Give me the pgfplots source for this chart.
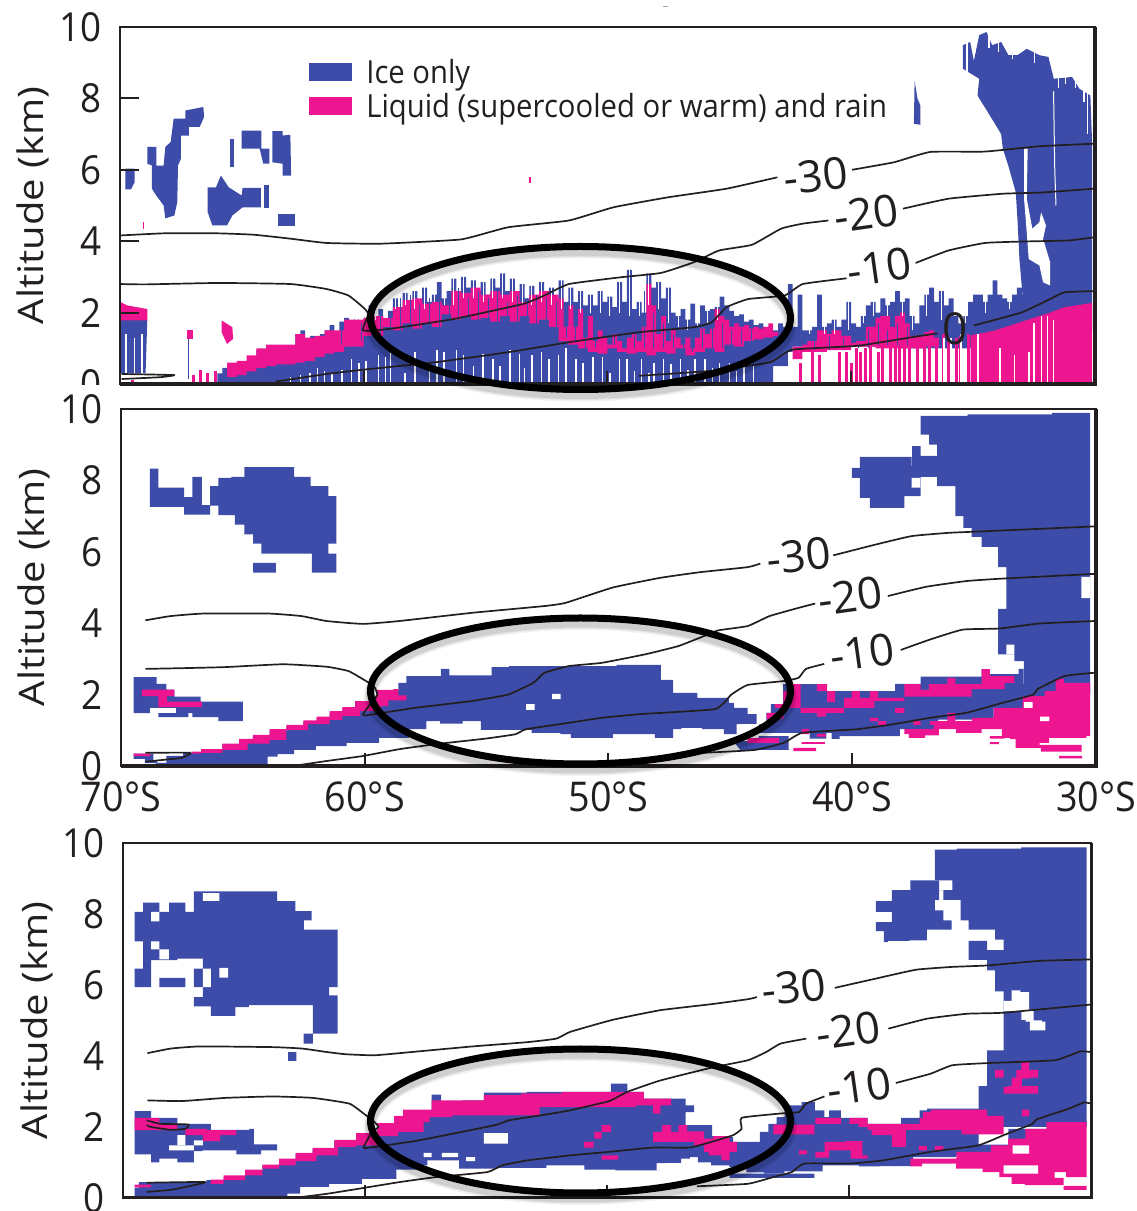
\documentclass[border=0pt]{standalone}
\usepackage{fontspec}
\usepackage{graphicx}
\setmainfont[FakeStretch=0.92]{Open Sans}
\newfontfamily\plainfont{Open Sans}
\usepackage{pgfplots}
\pgfplotsset{compat=1.18}
\definecolor{iceblue}{HTML}{3C4CA8}
\definecolor{liqpink}{HTML}{EE1590}
\definecolor{inkc}{HTML}{231F20}
\pgfplotsset{
 ice/.style={forget plot,fill=iceblue,draw=none},
 liq/.style={forget plot,fill=liqpink,draw=none},
 hole/.style={forget plot,fill=white,draw=none},
 iso/.style={forget plot,draw=inkc,line width=1.7pt,fill=none,smooth,tension=0.25,line join=round},
 needle/.style={forget plot,unbounded coords=jump,fill=none,line width=#1},
 stair/.style={ice/.append style={const plot mark mid},liq/.append style={const plot mark mid},hole/.append style={const plot mark mid}},
 panel/.style={
  scale only axis,x dir=reverse,xmin=30,xmax=70,ymin=0,ymax=10,
  axis on top,axis line style={draw=inkc,line width=2pt},
  xtick={40,50,60},ytick={0,2,4,6,8,10},
  tick align=inside,xtick pos=bottom,ytick pos=left,
  tick style={draw=inkc,line width=2pt},
  major tick length=13pt,
  /pgf/number format/assume math mode=true,
  yticklabel style={font=\fontsize{40}{40}\selectfont,text=inkc,xshift=-15pt},
  xticklabel style={font=\fontsize{41}{41}\selectfont,text=inkc},
  every axis y label/.style={at={(axis description cs:-0.089,0.5)},rotate=90,anchor=center,font=\plainfont\fontsize{40}{40}\selectfont,text=inkc},
  ylabel={\scalebox{1}[0.88]{Altitude (km)}}
 }
}
\newcommand{\rect}[5]{\addplot[#1] coordinates {(#2,#4) (#3,#4) (#3,#5) (#2,#5)} -- cycle;}
\newcommand{\lab}[4]{\node[rotate=#4,text=inkc,font=\plainfont\fontsize{44}{44}\selectfont] at (axis cs:#1,#2) {#3};}
\newcommand{\ring}[2]{%
 \foreach \w/\o in {14/0.05,11/0.07,9/0.08}{\draw[black,opacity=\o,line width=\w pt] (580.5pt,#1pt-5pt) ellipse [x radius=210pt,y radius=#2pt];}
 \draw[black,line width=7pt] (580.5pt,#1pt) ellipse [x radius=210pt,y radius=#2pt];}
\begin{document}
\begin{tikzpicture}[x=1pt,y=1pt]
\useasboundingbox (0,0) rectangle (1136,1211);
\draw[gray!70,line width=.8pt] (663,1205) -- (668,1205);
% ------------------------------------------------ panel 1
\begin{axis}[panel,at={(120pt,827pt)},anchor=south west,width=975pt,height=357pt,
  xticklabels={},ytick style={draw=inkc,line width=2pt,/pgfplots/major tick length=19pt},
  legend style={at={(0.194,0.91)},anchor=north west,draw=none,fill=none,inner sep=0pt,row sep=8pt,
   font=\fontsize{31.8}{32}\selectfont,text=inkc,legend cell align=left,nodes={inner xsep=14pt,inner ysep=0pt}},
  legend image code/.code={\fill[#1] (0pt,-9pt) rectangle (43pt,9pt);},
  legend plot pos=left]
\addplot[fill=iceblue,draw=none,const plot] coordinates {
(66,0)(66,.3)(65.8,.45)(65.6,.35)(65.4,.5)(65.2,.55)(65,.6)(64.8,.65)(64.6,.7)(64.4,.95)(64.2,.8)(64,1)(63.8,.85)(63.6,1)(63.4,1.05)(63.2,.95)(63,1.05)(62.8,1.4)(62.6,1.5)(62.4,1.2)(62.2,1.35)(62,1.25)(61.8,1.4)(61.6,1.5)(61.4,1.65)(61.2,1.45)(61,1.75)(60.8,1.85)(60.6,1.6)(60.4,1.8)(60.2,1.7)(60,1.85)(59.8,2.2)(59.6,1.9)(59.4,2.1)(59.2,1.8)(59,2.05)(58.8,2.4)(58.6,2.1)(58.4,2.55)(58.2,2.3)(58,2.6)(57.8,2.2)(57.6,2.7)(57.4,2.3)(57.2,2.5)(57,2.85)(56.8,2.4)(56.6,2.6)(56.4,2.95)(56.2,2.55)(56,3)(55.8,2.7)(55.6,2.9)(55.4,2.6)(55.2,2.85)(55,2.5)(54.8,2.95)(54.6,2.7)(54.4,3.1)(54.2,2.6)(54,2.95)(53.8,2.6)(53.6,2.8)(53.4,2.4)(53.2,2.75)(53,2.45)(52.8,2.85)(52.6,2.5)(52.4,2.7)(52.2,2.4)(52,2.9)(51.8,2.3)(51.6,2.7)(51.4,2.3)(51.2,2.6)(51,2.2)(50.8,2.5)(50.6,2.2)(50.4,2.6)(50.2,2.3)(50,2.45)(49.8,2.15)(49.6,2.85)(49.4,2.3)(49.2,3.2)(49,2.1)(48.8,2.3)(48.6,2)(48.4,3.1)(48.2,2.7)(48,2.85)(47.8,2.4)(47.6,2.7)(47.4,2)(47.2,1.9)(47,2.1)(46.8,1.8)(46.6,2.25)(46.4,1.7)(46.2,2.2)(46,2.05)(45.8,2.1)(45.6,2.15)(45.4,2.45)(45.2,2.2)(45,2.05)(44.8,1.9)(44.6,1.95)(44.4,1.75)(44.2,1.8)(44,1.65)(43.8,1.7)(43.6,1.6)(43.4,1.5)(43.2,.6)(43.2,0)} -- cycle;
\addlegendentry{Ice only}
\addplot[ice,const plot] coordinates {
(43.4,.5)(43.2,1.5)(43,1.7)(42.8,1.6)(42.6,2.8)(42.4,1.6)(42.2,2.5)(42,1.5)(41.8,1.5)(41.6,1.6)(41.4,2.5)(41.2,1.6)(41,1.7)(40.8,1.8)(40.6,1.6)(40.4,1.8)(40.2,2.3)(40,1.7)(39.8,1.6)(39.6,1.9)(39.4,2.2)(39.2,2.3)(39,2)(38.8,2.4)(38.6,2.2)(38.4,2.3)(38.2,2.6)(38,2.3)(37.8,2.4)(37.6,1.9)(37.4,1.7)(37.2,2.2)(37,2.5)(36.8,2.7)(36.6,2.3)(36.4,2.6)(36.2,2.2)(36,2.4)(35.8,1.9)(35.6,1.7)(35.4,1.9)(35.2,2.3)(35,2.5)(34.8,2.5)(34.6,2.3)(34.4,2.5)(34.2,2.9)(34,2.5)(33.8,2.4)(33.6,2.3)(33.4,2.5)(33.2,2.7)(33,2.5)(32.8,2.6)(32.8,1)(36,1)(38,1.05)(42.4,.9)(42.6,.5)} -- cycle;
% upper clouds
\addplot[ice] coordinates {(69.78,6.03)(69.4,6.03)(69.4,5.65)(69.55,5.45)(69.78,5.45)} -- cycle;
\addplot[ice] coordinates {(68.88,6.64)(68.51,6.64)(68.51,6.12)(68.21,6.12)(68.14,6.64)(67.92,6.78)(67.8,7.43)(67.32,7.43)(67.32,7.66)(66.58,7.76)(66.55,7.48)(66.73,7.2)(67.17,7.2)(67.17,6.96)(67.5,6.96)(67.5,6.31)(67.62,6.12)(67.65,5.09)(67.77,4.72)(68.14,4.64)(68.21,5)(68.51,5.28)(68.69,5.47)(68.69,6.12)(68.88,6.17)} -- cycle;
\rect{ice}{65.49}{65.31}{6.87}{6.07}
\addplot[ice] coordinates {(65.01,7.1)(64.2,7.1)(64.2,6.59)(63.87,6.59)(63.87,6.17)(64.12,6.17)(64.27,6.59)(65.01,6.59)} -- cycle;
\addplot[ice] coordinates {(63.75,7.08)(63.33,7.08)(63.33,6.96)(63.01,6.98)(62.98,5.84)(63.33,5.84)(63.33,6.17)(63.75,6.21)} -- cycle;
\addplot[ice] coordinates {(66.4,5.51)(66.06,5.51)(65.86,5.84)(65.54,5.51)(65.01,5.28)(64.97,5.49)(64.22,5.49)(64.22,4.95)(64.97,4.95)(65.39,4.72)(65.61,4.44)(66.21,4.44)(66.4,4.81)} -- cycle;
\rect{ice}{64.09}{63.87}{5.58}{4.93}
\rect{ice}{63.53}{62.83}{4.77}{4.42}
\addplot[ice] coordinates {(37.4,8.5)(37.28,7.99)(37.16,7.8)(37.16,7.26)(37.43,7.29)} -- cycle;
% left low block
\addplot[ice] coordinates {(69.97,1.8)(68.88,1.8)(68.95,.3)(69.97,.3)} -- cycle;
\rect{ice}{67.22}{67.16}{1.26}{.15}
% column
\addplot[ice] coordinates {(35.42,8.83)(35.42,9.49)(35.12,9.58)(34.97,9.05)(34.75,9.77)(34.45,9.86)(34.22,9.49)(33.85,9.58)(33.55,9.21)(33.18,9.21)(32.8,9.39)(32.28,9.21)(31.91,9.16)(31.69,8.55)(30.94,8.6)(30.64,8.27)(30.19,8.08)(30.12,6.78)(30.12,1.5)(33,1.5)(32.96,2.38)(33.1,3.5)(33.18,4.6)(33.25,5.37)(33.55,6.1)(33.78,6.59)(33.85,7)(34.15,7.34)(34.82,8.08)(34.75,8.55)} -- cycle;
% pink
\addplot[fill=liqpink,draw=none,const plot] coordinates {
(65.6,.6)(65.2,.65)(64.8,.8)(64.4,1)(64,1.1)(63.6,1.1)(63.2,1.1)(62.8,1.4)(62.4,1.3)(62,1.35)(61.6,1.5)(61.2,1.5)(60.8,1.8)(60.4,1.8)(60,1.85)(59.6,1.9)(59.2,1.85)(58.8,2.15)(58.4,2.35)(58,2.4)(57.6,2.25)(57.2,2.3)(56.8,2.2)(56.4,2.6)(56,2.55)(55.6,2.7)(55.2,2.5)(54.8,2.6)(54.4,2.5)(54,2.6)(53.6,2.3)(53.2,2.5)(52.8,2.6)(52.4,2.5)(52,2.4)(52,1.6)(52.4,1.8)(52.8,1.7)(53.2,1.9)(53.6,1.75)(54,1.9)(54.4,1.75)(54.8,1.85)(55.2,1.8)(55.6,1.9)(56,1.8)(56.4,1.95)(56.8,1.6)(57.2,1.7)(57.6,1.55)(58,1.7)(58.4,1.5)(58.8,1.6)(59.2,1.35)(59.6,1.35)(60,1.05)(60.4,1.05)(60.8,.9)(61.2,.85)(61.6,.75)(62,.65)(62.4,.6)(62.8,.55)(63.2,.55)(63.6,.5)(64,.45)(64.4,.35)(64.8,.25)(65.2,.2)(65.6,.2)} -- cycle;
\addlegendentry{Liquid (supercooled or warm) and rain}
\addplot[liq,const plot] coordinates {
(52,2.4)(51.8,1.6)(51.6,2.2)(51.4,1.6)(51.2,2.1)(51,1.3)(50.8,1.9)(50.6,1.2)(50.4,1.5)(50.2,1.3)(50,1.1)(49.8,1.4)(49.6,1.2)(49.4,1)(49.2,1.3)(49,1.4)(48.8,1.2)(48.6,1.6)(48.4,2.8)(48.2,2.2)(48,1.4)(47.8,1.9)(47.6,1.2)(47.4,1.5)(47.2,1.3)(47,1.1)(46.8,1.3)(46.6,1)(46.4,1.3)(46.2,1.55)(46,1.4)(45.8,1.55)(45.6,2.1)(45.4,1.9)(45.2,1.8)(45,1.6)(44.8,1.7)(44.6,1.6)(44.4,1.65)(44.2,1.55)(44,1.6)(43.8,1.55)(43.6,1.6)(43.4,1.7)(43.2,1.45)(43,1.6)(43,1.35)(43.2,1.3)(43.6,1.25)(44,1.2)(44.4,1.05)(44.8,1.1)(45.2,.9)(45.6,1)(46,.9)(46.4,.8)(46.8,1)(47.2,.85)(47.6,.9)(48,.8)(48.4,.9)(48.8,.85)(49.2,.9)(49.6,1)(50,.85)(50.4,.9)(50.8,1)(51.2,1.1)(51.6,1.2)(52,1.6)} -- cycle;
\addplot[liq,const plot] coordinates {
(42.4,1.05)(42,1.1)(41.8,1.2)(41.4,1.5)(41,1.4)(40.8,1.5)(40.4,1.35)(40,1.15)(39.8,1.2)(39.4,1.6)(39,1.85)(38.8,1.9)(38.4,1.6)(38.2,1.9)(38,2)(37.8,1.7)(37.6,1.35)(37.2,1.35)(37,1.45)(36.8,1.5)(36.6,1.3)(36.4,1.4)(36.4,1.05)(37,1)(38,1)(39,1.05)(40,.95)(41,.9)(42,.7)(42.4,.7)} -- cycle;
\addplot[liq] coordinates {(69.97,2.29)(69.7,2.2)(68.88,2.1)(68.88,1.78)(69.97,1.78)} -- cycle;
\rect{liq}{67.25}{67.02}{1.52}{1.26}
\addplot[liq] coordinates {(65.83,1.78)(65.39,1.59)(65.36,1.26)(65.61,1.12)(65.83,1.45)} -- cycle;
\addplot[liq] coordinates {(35.1,1.36)(34.1,1.5)(31.84,2)(31.25,2.15)(30.12,2.27)(30.12,.05)(35.1,.05)} -- cycle;
\rect{liq}{53.23}{53.15}{5.79}{5.63}
\rect{liq}{69.06}{69}{4.53}{4.33}
\addplot[forget plot,ycomb,liqpink,line width=3pt] coordinates {(67,.25)(66.7,.4)(66.4,.3)(66.1,.35)(42.1,.6)(41.6,.9)(41.3,.8)(40.5,.9)(40.2,.9)(40,.6)(39.8,1)(39.6,.9)(39.4,1)(39.2,1.1)(38.9,.9)(38.7,1.1)(38.4,1.2)(38.2,1.1)(38,1)(37.8,1.2)(37.6,1.1)(37.3,1.3)(37,1.3)(36.8,1.3)(36.5,1.2)(36.2,1.4)(36,1.3)(35.7,1.3)(35.5,1.35)(35.2,1.4)(69.5,.1)};
% blue filaments through the liquid layer
\addplot[needle=1pt,iceblue] coordinates {(60.9,1.1)(60.9,1.6)(nan,nan)(60.1,1.2)(60.1,1.7)(nan,nan)(59.7,1.2)(59.7,2)(nan,nan)(59.3,1.3)(59.3,2.1)(nan,nan)(58.9,1.4)(58.9,2)(nan,nan)(58.5,1.4)(58.5,2.4)(nan,nan)(58.1,1.4)(58.1,2.5)(nan,nan)(57.7,1.4)(57.7,2.2)(nan,nan)(57.3,1.5)(57.3,2.4)(nan,nan)(56.9,1.5)(56.9,2.3)(nan,nan)(56.5,1.7)(56.5,2.3)(nan,nan)(56.1,1.7)(56.1,2.7)(nan,nan)(55.7,1.7)(55.7,2.4)(nan,nan)(55.3,1.7)(55.3,2.6)(nan,nan)(54.9,1.7)(54.9,2.4)(nan,nan)(54.5,1.7)(54.5,2.6)(nan,nan)(54.1,1.7)(54.1,2.3)(nan,nan)(53.7,1.7)(53.7,2.5)(nan,nan)(53.3,1.7)(53.3,2.4)(nan,nan)(52.9,1.6)(52.9,2.5)(nan,nan)(52.5,1.7)(52.5,2.4)(nan,nan)(52.1,1.6)(52.1,2.3)(nan,nan)(51.7,1.3)(51.7,2.3)(nan,nan)(51.3,1.2)(51.3,2)(nan,nan)(50.9,1)(50.9,1.9)(nan,nan)(50.5,1)(50.5,1.8)(nan,nan)(49.7,1.1)(49.7,1.6)(nan,nan)(49.3,1)(49.3,1.5)(nan,nan)(48.9,1)(48.9,1.5)(nan,nan)(48.5,1)(48.5,2.6)(nan,nan)(48.1,1)(48.1,2)(nan,nan)(47.7,1)(47.7,1.7)(nan,nan)(47.3,1)(47.3,1.4)(nan,nan)(46.9,1)(46.9,1.3)(nan,nan)(46.5,.9)(46.5,1.2)(nan,nan)(46.1,1)(46.1,1.5)(nan,nan)(45.7,1)(45.7,1.8)(nan,nan)(45.3,1)(45.3,1.7)(nan,nan)(44.9,1.1)(44.9,1.5)(nan,nan)(44.5,1.1)(44.5,1.5)(nan,nan)(44.1,1.2)(44.1,1.5)(nan,nan)(41.5,.95)(41.5,1.4)(nan,nan)(40.9,.95)(40.9,1.35)(nan,nan)(40.3,1)(40.3,1.3)(nan,nan)(39.7,1)(39.7,1.15)(nan,nan)(39.3,1)(39.3,1.5)(nan,nan)(38.9,1.1)(38.9,1.7)(nan,nan)(38.5,1.1)(38.5,1.5)(nan,nan)(38.1,1.1)(38.1,1.7)(nan,nan)(37.7,1.1)(37.7,1.6)};
% white gaps
\addplot[forget plot,ycomb,white,line width=1.5pt] coordinates {(69.75,1.4)(69.4,1.3)(69.1,1.4)(63,.2)(62.6,.25)(62.2,.3)(61.9,.45)(61.6,.35)(61.3,.3)(60.9,.4)(60.5,.7)(60.2,.6)(59.9,.65)(59.4,.8)(59.1,.75)(58.9,1)(58.3,.3)(57.9,.9)(57.3,.6)(57,.95)(56.7,.9)(56.2,.95)(55.9,.8)(55.5,.5)(55.1,.85)(54.7,.7)(54.4,.5)(54,.95)(53.6,.85)(53.4,.45)(53.1,.8)(52.7,.9)(52.4,.7)(52,.8)(51.7,1)(51.3,.7)(51,.6)(50.6,.75)(50.2,.75)(49.9,.3)(49.5,.7)(49.2,.7)(48.9,.35)(48.6,.7)(48.3,.3)(48.1,.6)(47.7,.7)(47.4,.55)(47,.7)(46.7,.4)(46.4,.7)(46,.7)(45.7,.45)(45.4,.6)(45,.6)(44.7,.35)(44.4,.5)(44,.55)(36.7,1)(36.2,1.3)(35.9,1.3)(35.5,1.4)(34.8,1.4)(33.9,1)(33.3,.8)(32.7,.9)(32.5,1.7)(32.2,1.9)(31.95,1.9)(31.7,1.8)};
\addplot[needle=1.1pt,white] coordinates {(61.5,1.5)(61.5,3.4)(nan,nan)(60.9,1.8)(60.9,3.4)(nan,nan)(60.3,1.8)(60.3,3.4)(nan,nan)(59.9,1.9)(59.9,3.4)(nan,nan)(59.5,1.8)(59.5,3.4)(nan,nan)(59.1,1.85)(59.1,3.4)(nan,nan)(58.7,2.1)(58.7,3.4)(nan,nan)(58.3,2.2)(58.3,3.4)(nan,nan)(57.9,2.1)(57.9,3.4)(nan,nan)(57.5,2.1)(57.5,3.4)(nan,nan)(57.1,2.3)(57.1,3.4)(nan,nan)(56.7,2.2)(56.7,3.4)(nan,nan)(56.3,2.2)(56.3,3.4)(nan,nan)(55.9,2.4)(55.9,3.4)(nan,nan)(55.5,2.4)(55.5,3.4)(nan,nan)(55.1,2.3)(55.1,3.4)(nan,nan)(54.7,2.4)(54.7,3.4)(nan,nan)(54.3,2.4)(54.3,3.4)(nan,nan)(53.9,2.3)(53.9,3.4)(nan,nan)(53.5,2.2)(53.5,3.4)(nan,nan)(53.1,2.2)(53.1,3.4)(nan,nan)(52.7,2.3)(52.7,3.4)(nan,nan)(52.3,2.2)(52.3,3.4)(nan,nan)(51.9,2.1)(51.9,3.4)(nan,nan)(51.5,2.1)(51.5,3.4)(nan,nan)(51.1,2)(51.1,3.4)(nan,nan)(50.7,2)(50.7,3.4)(nan,nan)(50.3,2)(50.3,3.4)(nan,nan)(49.9,1.9)(49.9,3.4)(nan,nan)(49.5,2)(49.5,3.4)(nan,nan)(49.1,1.9)(49.1,3.4)(nan,nan)(48.7,1.9)(48.7,3.4)(nan,nan)(48.3,2.2)(48.3,3.4)(nan,nan)(47.9,2.1)(47.9,3.4)(nan,nan)(47.5,1.7)(47.5,3.4)(nan,nan)(47.1,1.6)(47.1,3.4)(nan,nan)(46.7,1.5)(46.7,3.4)(nan,nan)(46.3,1.6)(46.3,3.4)(nan,nan)(45.9,1.7)(45.9,3.4)(nan,nan)(45.5,1.8)(45.5,3.4)(nan,nan)(41.7,1.4)(41.7,3.4)(nan,nan)(41.1,1.4)(41.1,3.4)(nan,nan)(40.7,1.4)(40.7,3.4)(nan,nan)(40.1,1.5)(40.1,3.4)(nan,nan)(39.5,1.7)(39.5,3.4)(nan,nan)(39.1,1.9)(39.1,3.4)(nan,nan)(38.5,1.9)(38.5,3.4)(nan,nan)(37.9,1.9)(37.9,3.4)(nan,nan)(37.5,1.5)(37.5,3.4)(nan,nan)(36.9,1.9)(36.9,3.4)(nan,nan)(36.3,1.8)(36.3,3.4)(nan,nan)(35.3,1.7)(35.3,3.4)(nan,nan)(34.5,2)(34.5,3.4)(nan,nan)(33.5,2.1)(33.5,3.4)(nan,nan)(35.25,10)(35.25,8.7)(nan,nan)(34.9,10)(34.9,9.3)(nan,nan)(34.35,10)(34.35,9.4)(nan,nan)(33.95,10)(33.95,9.3)(nan,nan)(33.4,10)(33.4,9.1)(nan,nan)(32.5,10)(32.5,9)(nan,nan)(31.5,10)(31.5,8.3)(nan,nan)(31.2,10)(31.2,8.4)(nan,nan)(30.8,10)(30.8,8.3)(nan,nan)(30.45,10)(30.45,7.9)(nan,nan)(30.3,10)(30.3,7)};
\addplot[hole] coordinates {(32.91,6.59)(32.76,6.59)(32.8,5.19)(32.57,4.35)(32.28,4.53)(32.21,4.81)(32.01,4.44)(32.13,4.07)(31.84,3.41)(31.84,2.76)(32.13,2.85)(32.28,3.32)(32.72,3.5)(32.8,4.25)(32.91,5.19)} -- cycle;
\addplot[forget plot,white,line width=1pt] coordinates {(31.7,8.2)(31.65,6)(31.6,5)};
% isotherms
\addplot[iso] coordinates {(70,4.16)(68.21,4.22)(65.98,4.22)(64.49,4.18)(63,4.07)(61.52,3.95)(59.29,3.93)(56.01,4.05)(54.08,4.39)(51.58,4.58)(49.75,4.95)(47.51,5.23)(45.12,5.47)(43.03,5.79)};
\addplot[iso] coordinates {(39.97,6)(38.25,6.21)(36.76,6.5)(34.52,6.51)(32.28,6.66)(30.04,6.73)};
\addplot[iso] coordinates {(70,2.8)(68.96,2.79)(65.98,2.83)(63,2.8)(61.52,2.66)(60.63,2.48)(60.03,2.15)(59.81,1.96)(60.03,1.5)(58.99,1.54)(56.31,1.82)(53.48,2.24)(52.59,2.48)(51.58,2.8)(49.45,2.99)(47.81,3.11)(46.46,3.41)(45.42,3.74)(44.07,3.9)(42.88,4.35)(42,4.49)(40.94,4.58)};
\addplot[iso] coordinates {(37.88,4.91)(36.01,5.19)(33.78,5.33)(32.28,5.36)(30.04,5.47)};
\addplot[iso] coordinates {(69.93,.28)(67.77,.25)(68.36,.19)(69.93,.14)};
\addplot[iso] coordinates {(63.6,.07)(61.52,.28)(60.03,.4)(57.05,.61)(54.08,.89)(51.58,1.17)(48.7,1.45)(46.46,1.59)(45.72,1.73)(45.12,2.15)(44.22,2.38)(42.73,2.48)(41.99,2.8)(40.19,2.96)};
\addplot[iso] coordinates {(37.36,3.39)(36.01,3.74)(34.52,3.95)(33.03,3.99)(31.09,4.02)(30.04,4.11)};
\addplot[iso] coordinates {(48.7,.23)(45.72,.37)(43.33,.61)(42.43,.96)(39.75,1.07)(37.51,1.31)(36.46,1.42)};
\addplot[iso] coordinates {(34.97,1.64)(33.03,2)(31.84,2.38)(31.25,2.57)(30.04,2.6)};
\lab{41.46}{5.84}{-30}{6}
\lab{39.37}{4.77}{-20}{8}
\lab{38.85}{3.27}{-10}{8}
\lab{35.72}{1.54}{0}{0}
\end{axis}
\fill[white] (50,802) rectangle (117,826);
% ------------------------------------------------ panel 2
\begin{axis}[panel,stair,at={(121pt,445pt)},anchor=south west,width=975pt,height=357pt,
  ytick style={draw=none},xtick={30,40,50,60,70},
  xticklabels={30°S,40°S,50°S,60°S,70°S},
  xticklabel style={yshift=-12pt}]
\addplot[ice] coordinates {(68.81,8.33)(68.47,8.33)(68.47,7.8)(67.41,7.8)(67.41,7.53)(67.07,7.53)(67.07,8.1)(66.68,8.1)(66.68,7.31)(66.34,7.31)(66.34,7.04)(67.41,7.04)(67.41,7.26)(68.81,7.26)} -- cycle;
\addplot[ice] coordinates {(66.34,7.84)(66,7.84)(66,8.07)(64.94,8.1)(64.94,8.37)(62.9,8.37)(62.9,8.1)(62.22,8.1)(62.22,7.84)(61.49,7.84)(61.49,7.56)(61.16,7.56)(61.16,6.23)(61.49,6.23)(61.49,5.95)(61.16,5.95)(61.16,5.42)(62.17,5.42)(62.17,5.95)(64.24,5.95)(64.24,6.23)(64.58,6.23)(64.58,6.49)(64.94,6.49)(64.94,6.76)(65.33,6.76)(65.33,7.03)(66,7.03)(66,7.29)(66.34,7.29)} -- cycle;
\rect{ice}{64.58}{63.65}{5.69}{5.42}
\addplot[ice] coordinates {(69.48,2.49)(68.54,2.49)(68.54,2.3)(68.14,2.3)(68.14,2.14)(67.81,2.14)(67.81,1.94)(66.73,1.94)(66.73,1.8)(65,1.8)(65,1.26)(66,1.26)(66,1.37)(67.07,1.37)(67.07,1.48)(67.41,1.37)(68.47,1.37)(68.47,1.48)(67.74,1.48)(67.74,1.63)(68.81,1.63)(68.81,1.48)(69.48,1.48)} -- cycle;
\addplot[liq] coordinates {(69.14,2.14)(67.81,2.14)(67.81,1.96)(68.11,1.96)(68.11,1.8)(66.68,1.8)(66.68,1.65)(68.47,1.65)(68.47,1.96)(69.14,1.96)} -- cycle;
% main layer
\addplot[ice] coordinates {(69.48,.35)(68.78,.35)(68.56,.14)(68.47,.09)(67.81,.28)(67.1,.37)(66.32,.45)(65.36,.61)(64.94,.75)(64.24,.84)(63.57,.98)(62.87,1.1)(62.16,1.23)(61.79,1.35)(61.09,1.49)(60.74,1.61)(60.04,1.77)(59.03,2.12)(58.62,2.12)(58.62,2.33)(58.29,2.33)(58.29,2.52)(56.88,2.52)(56.88,2.72)(56.53,2.72)(56.53,2.54)(54.79,2.54)(54.79,2.77)(53.38,2.8)(51.76,2.8)(50.19,2.8)(49.15,2.83)(47.85,2.83)(47.85,2.41)(47.35,2.41)(47.35,2.05)(46.35,2.05)(46.35,1.91)(45.11,1.91)(45.01,1.77)(44.69,1.63)(44.29,1.63)(44.29,1.45)(43.92,1.45)(43.92,1.17)(43.54,1.03)(43.51,1.49)(43.17,1.73)(42.5,2.29)(41.45,2.29)(41.08,2.1)(40.25,2.1)(38.24,2.1)(38.24,2.3)(37.19,2.3)(37.19,2.5)(34.69,2.5)(34.69,2.71)(34.35,2.71)(34.35,2.57)(33.35,2.57)(33,2.72)(32.93,2.3)(30.24,2.33)(30.24,2)(31.88,1.9)(33.68,1.63)(34.72,1.35)(35.1,1.3)(37.86,1.03)(38.24,.84)(40.33,.84)(40.7,.76)(41,.93)(41.12,.77)(41.45,.77)(42.05,.93)(43.51,.93)(44.29,1.17)(44.59,1.17)(44.89,.89)(45.64,1.03)(46.68,1.07)(47.35,1.03)(47.35,.79)(48.1,.79)(48.1,.89)(49.82,.89)(49.82,.79)(51.32,.79)(51.76,.89)(52.19,.93)(54.12,1.01)(55.01,1.01)(55.46,1.26)(56.5,1.19)(57.32,1.26)(57.62,1.03)(58.74,.79)(60.07,.65)(61.41,.56)(62.6,.45)(63.2,.33)(63.94,.26)(64.02,.02)(68.56,.02)(68.56,.08)(69.48,.2)} -- cycle;
\addplot[ice] coordinates {(44.89,.7)(42.8,.84)(42.42,.45)(44.59,.45)} -- cycle;
\addplot[hole] coordinates {(44.59,1.17)(43.92,1.17)(43.7,1)(44.2,.9)(44.6,.92)} -- cycle;
% column
\addplot[ice] coordinates {(32.96,2.72)(32.96,2.94)(33.35,2.94)(33.35,3.13)(34.02,3.13)(34.02,4.4)(33.68,4.4)(33.68,5.57)(34.02,5.57)(34.02,6.14)(34.69,6.14)(34.69,6.42)(35.1,6.42)(35.1,6.67)(35.44,6.67)(35.44,7)(35.77,7)(35.77,7.84)(36.52,7.84)(36.52,8.1)(37.19,8.1)(37.19,7.56)(37.86,7.56)(37.86,7.23)(39.28,7.23)(39.28,7.51)(39.69,7.51)(39.69,8.07)(40.01,8.07)(40.01,8.35)(39.69,8.35)(39.69,8.66)(37.56,8.66)(37.56,8.4)(37.53,8.96)(37.19,8.96)(37.19,8.69)(36.52,8.69)(36.52,9)(36.85,9)(36.85,9.28)(37.19,9.28)(37.19,9.81)(33.35,9.85)(30.24,9.89)(30.24,2)(32.96,2)} -- cycle;
\rect{hole}{37.56}{37.2}{8.07}{7.8}
\rect{hole}{30.24}{30.6}{5.3}{4.7}
\rect{hole}{33.68}{33.35}{3.4}{3.13}
% pink
\addplot[liq] coordinates {(67.1,.4)(66.32,.47)(65.36,.63)(64.94,.76)(64.24,.87)(63.57,1.03)(62.87,1.15)(62.16,1.28)(61.79,1.38)(61.09,1.54)(60.74,1.65)(60.04,1.82)(59.03,2.13)(58.62,2.15)(58.62,1.98)(58.29,1.98)(58.29,1.84)(59.03,1.84)(59.03,1.68)(59.63,1.54)(60.74,1.4)(61.09,1.29)(61.79,1.17)(62.87,1.01)(63.57,.73)(64.24,.63)(65.36,.45)(66.32,.37)(67.1,.35)} -- cycle;
\rect{liq}{69.48}{68.78}{.35}{.28}
\addplot[liq] coordinates {(38.24,1.91)(37.86,1.91)(37.86,2.29)(37.19,2.29)(37.19,2.13)(36.52,2.29)(36.1,2.29)(36.1,2.47)(35.77,2.47)(35.77,2.29)(34.69,2.29)(34.69,2.71)(34.35,2.71)(34.35,2.52)(33.35,2.52)(33.35,2.33)(33.75,2.33)(33.75,2.15)(35.1,2.15)(35.1,1.94)(37.86,1.94)(37.86,1.82)(40.33,1.63)(40.33,1.91)(40.03,1.91)(40.03,2.1)(39.69,2.1)(39.69,1.91)(39.28,1.91)(39.28,2.1)(38.94,2.1)(38.94,1.91)} -- cycle;
\rect{liq}{41.45}{41.03}{2.29}{2.1}
\rect{liq}{41.03}{40.7}{2.1}{1.79}
\rect{liq}{42.12}{40.33}{1.63}{1.49}
\rect{liq}{41.45}{41.08}{1.49}{1.38}
\rect{liq}{42.5}{42.12}{2.29}{1.63}
\rect{liq}{42.83}{42.5}{2.1}{1.63}
\rect{liq}{43.17}{42.5}{1.73}{1.63}
\rect{liq}{37.86}{38.24}{1.63}{1.49}
\rect{liq}{39.28}{38.94}{1.35}{1.26}
\rect{liq}{38.94}{38.61}{1.26}{1.15}
\rect{liq}{37.49}{37.19}{1.26}{1.15}
\rect{liq}{36.82}{36.14}{1.26}{1.15}
\rect{liq}{36.1}{35.77}{1.49}{1.26}
\rect{liq}{43.51}{42.83}{1.49}{1.32}
\rect{liq}{42.08}{41.78}{1.03}{.89}
\rect{liq}{41.45}{41.08}{.89}{.82}
\addplot[liq] coordinates {(37.86,1.03)(35.47,1.26)(34.72,1.35)(33.68,1.63)(32.33,1.96)(31.88,2.1)(31.43,2.44)(31.21,2.33)(30.24,2.33)(30.24,.84)(30.54,.79)(31.81,.79)(32.03,.65)(32.59,.59)(30.61,.59)(30.57,.4)(32.26,.4)(32.26,.51)(33.3,.51)(33.3,.75)(33.75,.79)(33.98,1.03)(35.4,.93)(36.07,1.03)(36.82,.86)(37.19,.79)(37.49,.79)(37.86,.89)} -- cycle;
\rect{hole}{32.96}{32.6}{1.79}{1.63}
\rect{hole}{32.29}{31.91}{1.38}{1.26}
\rect{liq}{34.35}{33.75}{.84}{.77}
\rect{liq}{34.35}{33.98}{.67}{.61}
\rect{liq}{31.51}{30.57}{.28}{.21}
\rect{liq}{42.42}{41.48}{.51}{.42}
\rect{liq}{42.08}{41.12}{.67}{.62}
\rect{liq}{44.3}{43.0}{.79}{.65}
\rect{hole}{53.38}{53.03}{1.73}{1.57}
\rect{hole}{52.31}{51.96}{2.02}{1.87}
% isotherms
\addplot[iso] coordinates {(69,4.08)(67.96,4.2)(66.62,4.27)(63.94,4.27)(62.6,4.2)(61.56,4.06)(60.07,3.98)(58.59,4.06)(55.61,4.29)(52.63,4.48)(51.76,4.57)(49.82,5)(47.88,5.27)(46.23,5.43)(44.29,5.57)(43.77,5.67)};
\addplot[iso] coordinates {(40.78,5.9)(39.06,6.2)(37.56,6.44)(36.07,6.53)(35.1,6.56)(33.08,6.62)(30.09,6.71)};
\addplot[iso] coordinates {(69,2.72)(67.51,2.74)(65.73,2.77)(63.35,2.85)(61.56,2.78)(60.67,2.66)(60.07,2.43)(59.63,2.24)(59.48,2)(59.78,1.73)(60.07,1.45)(59.93,1.42)(57.92,1.63)(55.61,1.82)(54.12,2)(53.08,2.33)(52.63,2.61)(51.62,2.8)(50.27,2.89)(48.48,3.13)(47.13,3.36)(46.08,3.64)(45.49,3.8)(44.29,3.92)(43.39,4.2)(42.2,4.43)(41.52,4.55)};
\addplot[iso] coordinates {(38.54,4.76)(36.97,5.02)(35.32,5.18)(33.83,5.25)(30.09,5.38)};
\addplot[iso] coordinates {(69,.37)(67.15,.37)(67.5,.23)(68,.19)(69,.12)};
\addplot[iso] coordinates {(62.75,.02)(61.56,.14)(60.07,.28)(58.59,.47)(57.1,.61)(55.01,.77)(53.82,.89)(53.38,1.03)(51.62,1.21)(50.27,1.35)(48.77,1.45)(47.28,1.51)(45.64,1.59)(45.26,1.77)(44.96,2)(44.29,2.27)(42.8,2.38)(42.2,2.47)(41.9,2.72)(41.15,2.86)};
\addplot[iso] coordinates {(38.01,3.25)(36.82,3.54)(35.47,3.82)(33.98,3.85)(32.33,3.99)(30.09,4.06)};
\addplot[iso] coordinates {(47.28,.33)(46.08,.37)(43.99,.45)(42.8,.65)(42.05,.93)(39.81,1.03)(38.31,1.17)(36.82,1.35)(35.32,1.49)(33.83,1.77)(32.56,2)(32.41,2.15)(31.29,2.52)(30.09,2.61)};
\lab{42.2}{5.88}{-30}{6}
\lab{40.1}{4.76}{-20}{8}
\lab{39.58}{3.17}{-10}{8}
\end{axis}
% ------------------------------------------------ panel 3
\begin{axis}[panel,stair,at={(123pt,13pt)},anchor=south west,width=968.5pt,height=355pt,
  xticklabels={},ytick style={draw=none}]
\addplot[ice] coordinates {(69.52,8.06)(69.17,8.06)(69.17,8.32)(68.5,8.32)(68.5,8.06)(68.09,8.06)(68.09,8.32)(67.42,8.32)(67.42,8.06)(67.07,8.06)(67.07,8.64)(63.63,8.64)(63.63,8.36)(62.88,8.36)(62.88,8.08)(62.21,8.08)(62.21,7.82)(62.53,7.82)(62.53,7.56)(61.14,7.56)(61.14,5.94)(61.49,5.94)(61.49,5.71)(61.14,5.71)(61.14,4.63)(62.16,4.63)(62.16,5.43)(64.29,5.43)(65.32,5.38)(65.39,5.13)(66.37,5.13)(66.37,5.4)(67.07,5.4)(67.07,5.66)(66.7,5.66)(66.7,6.74)(67.42,6.74)(68.09,6.7)(68.84,6.7)(68.84,5.94)(69.52,5.94)(69.52,6.46)(69.17,6.46)(69.17,7.23)(69.52,7.23)} -- cycle;
\rect{ice}{68.5}{67.42}{6.2}{5.94}
\rect{ice}{67.07}{66.7}{6.46}{5.94}
\rect{ice}{62.54}{62.16}{4.63}{4.35}
\rect{ice}{63.18}{62.84}{4.11}{3.86}
\rect{hole}{66.7}{66.02}{8.59}{8.37}
\rect{hole}{68.84}{68.5}{8.06}{7.79}
\rect{hole}{68.84}{68.5}{7.23}{7}
\rect{hole}{68.5}{68.1}{7}{6.72}
\rect{hole}{66.02}{65.66}{6.48}{6.21}
\rect{hole}{66.7}{66.37}{6.46}{5.94}
\addplot[ice] coordinates {(69.52,2.45)(68.84,2.45)(68.84,2.26)(67.75,2.26)(67.75,2.09)(66.37,2.09)(66.37,1.92)(64.98,1.92)(64.59,1.95)(64.59,1.51)(63.63,1.51)(63.63,1.34)(64.29,1.34)(64.29,1.23)(65.32,1.23)(65.32,1.34)(66.37,1.34)(67.07,1.32)(67.07,1)(67.75,1)(67.75,1.11)(68.5,1.11)(68.5,1)(68.84,1)(68.84,1.23)(69.52,1.23)} -- cycle;
\rect{hole}{68.09}{67.07}{1.48}{1.34}
\rect{hole}{67.75}{67.42}{1.77}{1.48}
\rect{hole}{67.07}{66.7}{1.62}{1.48}
\addplot[liq] coordinates {(69.52,2.26)(68.5,2.26)(68.5,2.09)(67.75,2.09)(67.75,1.95)(65.32,1.91)(65.32,1.77)(65.99,1.77)(65.99,1.6)(66.7,1.6)(66.7,1.77)(67.42,1.77)(67.42,1.91)(69.52,1.91)} -- cycle;
% main layer
\addplot[ice] coordinates {(69.52,.29)(69.17,.45)(66.74,.45)(66.37,.5)(65.32,.59)(64.59,.78)(63.89,.92)(63.21,1.08)(62.54,1.25)(61.79,1.39)(60.74,1.62)(60,1.81)(59.01,2.09)(58.59,2.28)(58.26,2.47)(57.25,2.47)(57.25,2.91)(56.86,2.91)(56.86,2.7)(55.1,2.75)(55.1,2.97)(51.53,2.99)(49.85,2.99)(49.85,3.22)(49.17,3.22)(49.17,2.99)(48.49,2.99)(48.49,2.8)(46.76,2.8)(46.76,2.61)(46.41,2.61)(46.41,2.42)(46.76,2.42)(46.76,2.05)(45.7,2.05)(45.63,1.74)(44.95,1.72)(44.65,1.58)(43.89,1.58)(43.51,1.86)(43.17,2.09)(42.84,2.28)(42.5,2.61)(41.45,2.7)(41.4,2.47)(41.03,2.47)(41.03,2.28)(40.65,2.47)(40.35,2.47)(40.35,2.26)(39.25,2.26)(39.25,2.09)(37.86,2.09)(37.86,2.26)(37.1,2.26)(37.1,2.47)(36.47,2.52)(34.66,2.52)(34.66,1.5)(32.2,1.95)(31.15,2.15)(30.2,2.15)(30.2,2)(32.2,1.5)(34.7,1.2)(36.5,1.15)(38.24,.9)(39.22,.89)(40,.92)(42.2,.75)(43.17,.69)(43.9,.72)(44.6,.87)(45.32,.92)(46.1,1.0)(46.41,1.15)(46.76,1.11)(47.13,.99)(47.36,.99)(47.81,.98)(48.11,1.17)(47.81,.78)(49.17,.78)(50.15,.8)(51.73,.92)(53.3,.85)(54.05,.85)(54.95,.83)(57.28,1.06)(57.58,.92)(57.96,.8)(59.46,.54)(60.81,.4)(62.16,.31)(63.21,.12)(63.21,.05)(69.52,.05)} -- cycle;
\rect{ice}{44.95}{41.45}{.69}{.57}
% column and side cloud
\addplot[ice] coordinates {(36.47,9.81)(34.66,9.84)(31.15,9.88)(30.2,9.88)(30.2,2)(34.66,2)(34.66,3.15)(34.31,3.15)(34.31,4.16)(33.63,4.16)(33.63,5.82)(33.98,5.82)(33.98,6.41)(34.31,6.41)(34.31,6.71)(35.07,6.71)(35.07,7.24)(34.31,7.24)(34.31,6.98)(33.63,6.98)(33.63,7.28)(33.98,7.28)(33.98,7.56)(35.07,7.56)(35.07,7.82)(35.41,7.82)(35.41,8.4)(36.12,8.4)(36.12,8.67)(35.75,8.67)(35.75,8.95)(36.47,8.95)} -- cycle;
\addplot[ice] coordinates {(38.91,8.36)(38.24,8.36)(38.24,8.67)(37.48,8.67)(37.48,8.95)(36.47,8.95)(36.12,8.67)(36.47,8.39)(36.47,8.1)(36.12,8.1)(36.12,7.82)(35.78,7.82)(35.78,7.56)(36.8,7.56)(36.8,7.26)(38.24,7.24)(38.58,7.21)(38.58,7.52)(38.91,7.52)(38.91,7.77)(38.24,7.77)(38.24,8.06)(38.91,8.06)} -- cycle;
\addplot[hole] coordinates {(33.3,5.85)(32.58,5.8)(32.58,5.3)(32.2,5)(31.9,4.97)(31.9,4.72)(32.55,4.72)(32.55,4.97)(32.9,5.02)(32.9,5.26)(33.63,5.26)(33.63,5.55)(33.3,5.55)} -- cycle;
% pink
\addplot[liq] coordinates {(66.37,.52)(65.32,.64)(64.59,.8)(63.89,.94)(63.21,1.11)(62.54,1.27)(61.79,1.41)(60.74,1.64)(60,1.83)(59.01,2.11)(58.59,2.31)(58.26,2.49)(57.25,2.49)(57.25,2.75)(55.1,2.75)(55.1,2.9)(52,2.95)(51.73,2.99)(48.49,2.99)(48.49,2.8)(47.36,2.8)(47.36,2.61)(47.81,2.61)(47.81,2.38)(48.11,2.38)(48.11,2.61)(49.5,2.56)(51.53,2.56)(54.05,2.33)(55.7,2.33)(57.1,2.28)(57.58,2.14)(57.58,1.86)(58.26,1.86)(59.01,1.74)(60,1.48)(60.74,1.44)(61.49,1.2)(62.54,1.04)(63.21,.92)(63.89,.83)(64.59,.64)(65.32,.5)(66.37,.4)} -- cycle;
\rect{liq}{69.52}{68.84}{.38}{.3}
\addplot[liq] coordinates {(48.11,1.86)(47.74,1.86)(47.74,2.05)(47.36,2.05)(47.36,1.86)(47.06,1.86)(47.06,2.05)(46.7,2.05)(46.7,1.88)(46.0,1.88)(46.0,1.67)(45.63,1.67)(45.63,1.74)(44.95,1.74)(44.95,1.58)(44.65,1.58)(44.65,1.3)(44.95,1.3)(44.95,1.06)(45.63,1.2)(46,1.3)(46,1.48)(46.41,1.48)(46.41,1.58)(48.11,1.58)} -- cycle;
\rect{liq}{50.23}{49.85}{2.05}{1.86}
\rect{liq}{50.53}{50.23}{1.86}{1.67}
\rect{liq}{50.95}{50.56}{1.58}{1.42}
\rect{liq}{50.23}{49.55}{1.2}{1.08}
\addplot[liq] coordinates {(41.4,2.26)(40.35,2.26)(40.35,2.09)(40,2.09)(40,2.26)(39.25,2.26)(39.25,2.09)(37.86,2.09)(37.1,2.09)(37.1,2.26)(36.8,2.42)(36.47,2.49)(34.31,2.49)(34.31,2.31)(33.63,2.31)(33.63,1.79)(35.37,1.79)(35.37,1.92)(37.48,1.92)(37.86,1.44)(38.24,1.44)(38.24,1.77)(38.91,1.77)(39.25,1.92)(39.25,2.0)(39.62,2.0)(39.62,2.09)(41.4,2.09)} -- cycle;
\rect{liq}{43.14}{41.45}{2.07}{1.79}
\addplot[liq] coordinates {(41.4,1.3)(40.65,1.58)(39.67,1.6)(39.25,1.2)(39.25,1.11)(40.65,1.34)(41.03,1.14)(41.4,1.14)} -- cycle;
\rect{liq}{42.08}{41.75}{1.34}{1.23}
\rect{liq}{36.47}{36.12}{1.46}{1.34}
\rect{liq}{37.13}{36.8}{1.46}{1.34}
\addplot[liq] coordinates {(37.48,1.11)(36.47,1.11)(34.69,1.3)(33.63,1.48)(33.26,1.67)(32.2,1.95)(31.52,2.14)(30.2,2.14)(30.2,.59)(31.9,.73)(31.15,.57)(31.15,.36)(32.2,.36)(33.3,.4)(33.3,.59)(34.31,.73)(34.69,.83)(36.5,.97)(37.48,.89)} -- cycle;
\rect{hole}{33.26}{32.58}{1.48}{1.25}
\rect{hole}{33.63}{32.2}{.92}{.69}
\rect{liq}{31.15}{30.2}{.34}{.23}
\addplot[liq] coordinates {(33.98,3.61)(33.63,3.61)(33.63,3.39)(33.98,3.39)} -- cycle;
\addplot[liq] coordinates {(33.3,3.39)(32.9,3.6)(32.9,3.83)(32.58,3.83)(32.58,3.61)(32.2,3.61)(32.2,3.39)(32.88,3.36)(32.88,3.15)(32.2,3.15)(32.2,2.94)(33.63,2.94)(33.63,3.13)(33.3,3.15)} -- cycle;
\rect{liq}{32.88}{32.58}{2.49}{2.3}
\rect{hole}{55.1}{54.1}{1.83}{1.53}
\rect{hole}{57.58}{57.25}{1.27}{1.15}
\rect{hole}{56.83}{56.16}{1.27}{1.15}
\rect{hole}{55.83}{55.46}{1.15}{1.04}
% isotherms
\addplot[iso] coordinates {(68.99,4.08)(68.02,4.21)(66.82,4.27)(63.81,4.25)(62.61,4.21)(61.56,4.11)(60.81,4.05)(59.61,4.02)(58.11,4.11)(55.56,4.27)(53.3,4.39)(52.1,4.49)(51.53,4.68)(49.77,5.02)(47.81,5.29)(45.7,5.46)(44.19,5.6)(43.82,5.66)};
\addplot[iso] coordinates {(40.6,5.92)(38.91,6.18)(37.25,6.43)(35.75,6.51)(34.31,6.55)(32.13,6.68)(30.02,6.72)};
\addplot[iso] coordinates {(68.99,2.75)(67.57,2.73)(65.77,2.82)(63.81,2.86)(62.16,2.82)(60.66,2.66)(60.06,2.38)(59.61,2.14)(59.46,2)(59.76,1.81)(60.06,1.44)(59.91,1.41)(57.81,1.62)(54.65,2.05)(54.05,2.19)(52.55,2.35)(51.53,2.47)(49.92,2.73)(49.17,2.99)(47.81,3.31)(45.7,3.67)(44.19,3.88)(43.44,4.11)(42.84,4.35)(41.78,4.49)};
\addplot[iso] coordinates {(38.39,4.77)(36.8,5.05)(35.14,5.19)(33.63,5.22)(30.02,5.45)};
\addplot[iso] coordinates {(69.02,2.19)(68.47,2.09)(67.3,2.07)(67.42,1.95)(68.02,1.92)(68.84,2)(69.02,2.05)};
\addplot[iso] coordinates {(69.02,.43)(66.6,.45)(67.42,.31)(68.02,.23)(69.02,.17)};
\addplot[iso] coordinates {(62.61,.03)(61.56,.12)(60,.29)(58.56,.45)(57.06,.59)(54.95,.73)(54.35,.92)(53.3,1.06)(51.53,1.2)(49.92,1.3)(48.11,1.42)(46.61,1.42)(45.7,1.58)(44.8,1.77)(44.45,1.95)(44.45,2.26)(42.84,2.38)(42.08,2.42)(41.78,2.66)(41.03,2.86)};
\addplot[iso] coordinates {(38.08,3.24)(36.65,3.5)(35.75,3.74)(34.31,3.8)(31.52,3.88)(30.47,4.13)(30.02,4.11)};
\addplot[iso] coordinates {(46.3,.33)(44.19,.4)(43.14,.59)(42.38,.73)(41.86,.97)(39.97,.97)(38.61,1.06)(36.65,1.3)(34.69,1.48)(33.63,1.77)(32.43,2.09)(32.28,2.21)(30.92,2.52)(30.32,2.69)(30.02,2.66)};
\lab{42.3}{5.94}{-30}{6}
\lab{40.05}{4.72}{-20}{8}
\lab{39.6}{3.13}{-10}{8}
\end{axis}
% heavier right and lower frame lines
\draw[inkc,line width=3.5pt] (120,827) -- (1095,827) -- (1095,1184);
\draw[inkc,line width=3.5pt] (121,445) -- (1096,445) -- (1096,802);
\draw[inkc,line width=3pt] (123,13) -- (1091.5,13) -- (1091.5,368);
% highlighted regions
\ring{893}{71.5}
\ring{520}{73}
\ring{90}{72}
\end{tikzpicture}
\end{document}
